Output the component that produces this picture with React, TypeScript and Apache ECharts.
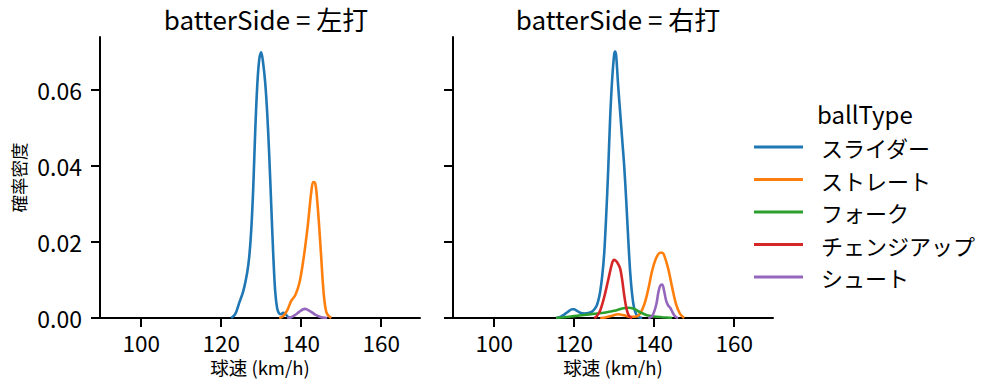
import React, { useEffect, useRef } from "react";
import * as echarts from "echarts";

// ---- data (x = 球速 km/h, y = 確率密度) ----
const panelTitles = ["batterSide = 左打", "batterSide = 右打"];
const ballTypes = ["スライダー", "ストレート", "フォーク", "チェンジアップ", "シュート"];
const colors = ["#1f77b4", "#ff7f0e", "#2ca02c", "#d62728", "#9467bd"];
const xTicks = [100, 120, 140, 160];
const yTicks = [0, 0.02, 0.04, 0.06];

// 左打
const leftSlider: number[][] = [
  [122.5, 0], [123.5, 0.001], [124.5, 0.004], [125.5, 0.007], [126.5, 0.012], [127, 0.016],
  [127.5, 0.023], [128, 0.034], [128.5, 0.049], [129, 0.061], [129.5, 0.068], [130, 0.07],
  [130.5, 0.067], [131, 0.062], [131.5, 0.054], [132, 0.043], [132.5, 0.03], [133, 0.017],
  [133.5, 0.007], [134, 0.0025], [134.5, 0.0012], [135, 0.001], [135.5, 0.0014], [136, 0.0012],
  [136.5, 0.0005], [137, 0.0001], [137.5, 0],
];
const leftStraight: number[][] = [
  [134.5, 0], [135.5, 0.0005], [136.5, 0.002], [137.5, 0.0045], [138.5, 0.006], [139.5, 0.009],
  [140.5, 0.015], [141.5, 0.023], [142, 0.028], [142.5, 0.033], [143, 0.0358], [143.5, 0.0355],
  [144, 0.031], [144.5, 0.024], [145, 0.016], [145.5, 0.008], [146, 0.003], [146.5, 0.001], [147.5, 0],
];
const leftShoot: number[][] = [
  [136.5, 0], [137.5, 0.0002], [138.5, 0.0008], [139.5, 0.0016], [140.5, 0.0023], [141, 0.0024],
  [141.5, 0.0022], [142.5, 0.0016], [143.5, 0.0009], [144.5, 0.0004], [145.5, 0.0001], [146.5, 0],
];

// 右打
const rightSlider: number[][] = [
  [115.5, 0], [116.5, 0.0003], [117.5, 0.0009], [118.5, 0.0017], [119.5, 0.0023], [120, 0.0023],
  [120.5, 0.002], [121.5, 0.0014], [122.5, 0.0012], [123.5, 0.0013], [124.5, 0.0017], [125.5, 0.003],
  [126, 0.0045], [126.5, 0.007], [127, 0.011], [127.5, 0.017], [128, 0.027], [128.5, 0.039],
  [129, 0.053], [129.5, 0.063], [130, 0.0695], [130.25, 0.0702], [130.5, 0.069], [131, 0.061],
  [131.5, 0.054], [132, 0.047], [132.5, 0.04], [133, 0.031], [133.5, 0.021], [134, 0.012],
  [134.5, 0.006], [135, 0.0025], [135.5, 0.001], [136, 0.0003], [137, 0],
];
const rightStraight: number[][] = [
  [126.5, 0], [128, 0.0002], [129.5, 0.0006], [131, 0.001], [132.5, 0.0007], [134, 0.0003],
  [135.5, 0.0004], [136.5, 0.0012], [137.5, 0.0035], [138.5, 0.0075], [139.5, 0.0125], [140.5, 0.0158],
  [141.5, 0.0172], [142, 0.0172], [142.5, 0.0165], [143.5, 0.013], [144.5, 0.008], [145.5, 0.0035],
  [146.5, 0.001], [147.5, 0],
];
const rightFork: number[][] = [
  [115.5, 0], [117.5, 0.0002], [120, 0.0005], [122.5, 0.0008], [125, 0.0011], [127.5, 0.0014],
  [130, 0.0019], [132, 0.0025], [133.5, 0.0027], [135, 0.0024], [136.5, 0.0015], [138, 0.0008],
  [140, 0.0004], [142, 0.0002], [144.5, 0],
];
const rightChangeup: number[][] = [
  [125, 0], [125.5, 0.0003], [126.5, 0.002], [127.5, 0.0055], [128.5, 0.01], [129.5, 0.0145],
  [130, 0.0153], [130.5, 0.015], [131, 0.0142], [131.5, 0.013], [132, 0.01], [132.5, 0.006],
  [133, 0.0028], [133.5, 0.001], [134, 0.0002], [134.5, 0],
];
const rightShoot: number[][] = [
  [138.5, 0], [139.5, 0.0005], [140.5, 0.0035], [141, 0.0065], [141.5, 0.0085], [142, 0.0088],
  [142.5, 0.007], [143, 0.0045], [143.5, 0.0033], [144, 0.0027], [144.5, 0.0017], [145, 0.0007],
  [145.5, 0.0002], [146, 0],
];

const FONT = "Noto Sans CJK JP";

export default function App() {
  const ref = useRef<HTMLDivElement>(null);
  useEffect(() => {
    if (!ref.current) return;
    const chart = echarts.init(ref.current, undefined, { renderer: "svg" });
    const grids = [
      { left: 100, top: 37, width: 320, height: 281 },
      { left: 453, top: 37, width: 320, height: 281 },
    ];
    const axisLine = { show: true, lineStyle: { color: "#000", width: 2 } };
    const xAxes = grids.map((_, i) => ({
      type: "value",
      gridIndex: i,
      min: 89.7,
      max: 169.7,
      axisLine: { ...axisLine, onZero: false },
      axisTick: { show: true, length: 9, lineStyle: { color: "#000", width: 2 }, customValues: xTicks },
      axisLabel: { show: true, fontSize: 22.5, lineHeight: 22, color: "#000", margin: 13, customValues: xTicks, fontFamily: FONT },
      splitLine: { show: false },
      name: "球速 (km/h)",
      nameLocation: "middle",
      nameGap: 37,
      nameTextStyle: { fontSize: 18.5, lineHeight: 18, color: "#000", fontFamily: FONT },
    }));
    const yAxes = grids.map((_, i) => ({
      type: "value",
      gridIndex: i,
      min: 0,
      max: 0.074,
      axisLine: { ...axisLine, onZero: false },
      axisTick: { show: true, length: 9, lineStyle: { color: "#000", width: 2 }, customValues: yTicks },
      axisLabel: {
        show: i === 0,
        fontSize: 23,
        color: "#000",
        margin: 18,
        customValues: yTicks,
        fontFamily: FONT,
        formatter: (v: number) => v.toFixed(2),
      },
      splitLine: { show: false },
      name: i === 0 ? "確率密度" : "",
      nameLocation: "middle",
      nameGap: 73,
      nameTextStyle: { fontSize: 17.5, color: "#000", fontFamily: FONT },
    }));
    const mk = (name: string, data: number[][], idx: number) => ({
      type: "line",
      name,
      data,
      xAxisIndex: idx,
      yAxisIndex: idx,
      smooth: 0.35,
      showSymbol: false,
      symbol: "none",
      lineStyle: { width: 2.6, color: colors[ballTypes.indexOf(name)] },
      itemStyle: { color: colors[ballTypes.indexOf(name)] },
      z: 2,
    });
    const series = [
      mk(ballTypes[0], leftSlider, 0),
      mk(ballTypes[1], leftStraight, 0),
      mk(ballTypes[4], leftShoot, 0),
      mk(ballTypes[0], rightSlider, 1),
      mk(ballTypes[1], rightStraight, 1),
      mk(ballTypes[2], rightFork, 1),
      mk(ballTypes[3], rightChangeup, 1),
      mk(ballTypes[4], rightShoot, 1),
    ];
    const titleStyle = { fontSize: 26, fontWeight: "normal", color: "#000", fontFamily: FONT };
    chart.setOption({
      animation: false,
      textStyle: { fontFamily: FONT },
      title: [
        { text: panelTitles[0], left: 261, top: 0, textAlign: "center", textStyle: titleStyle },
        { text: panelTitles[1], left: 613, top: 0, textAlign: "center", textStyle: titleStyle },
        { text: "ballType", left: 812, top: 96, textStyle: { ...titleStyle, fontSize: 24 } },
      ],
      legend: {
        data: ballTypes,
        orient: "vertical",
        left: 749,
        top: 131,
        itemWidth: 49,
        itemHeight: 3,
        itemGap: 10.5,
        icon: "rect",
        textStyle: { fontSize: 22, lineHeight: 22, color: "#000", fontFamily: FONT, padding: [0, 0, 0, 13] },
      },
      grid: grids,
      xAxis: xAxes,
      yAxis: yAxes,
      series,
    });
    return () => chart.dispose();
  }, []);
  return <div ref={ref} style={{ position: "absolute", left: 0, top: 0, width: 999, height: 391 }} />;
}
